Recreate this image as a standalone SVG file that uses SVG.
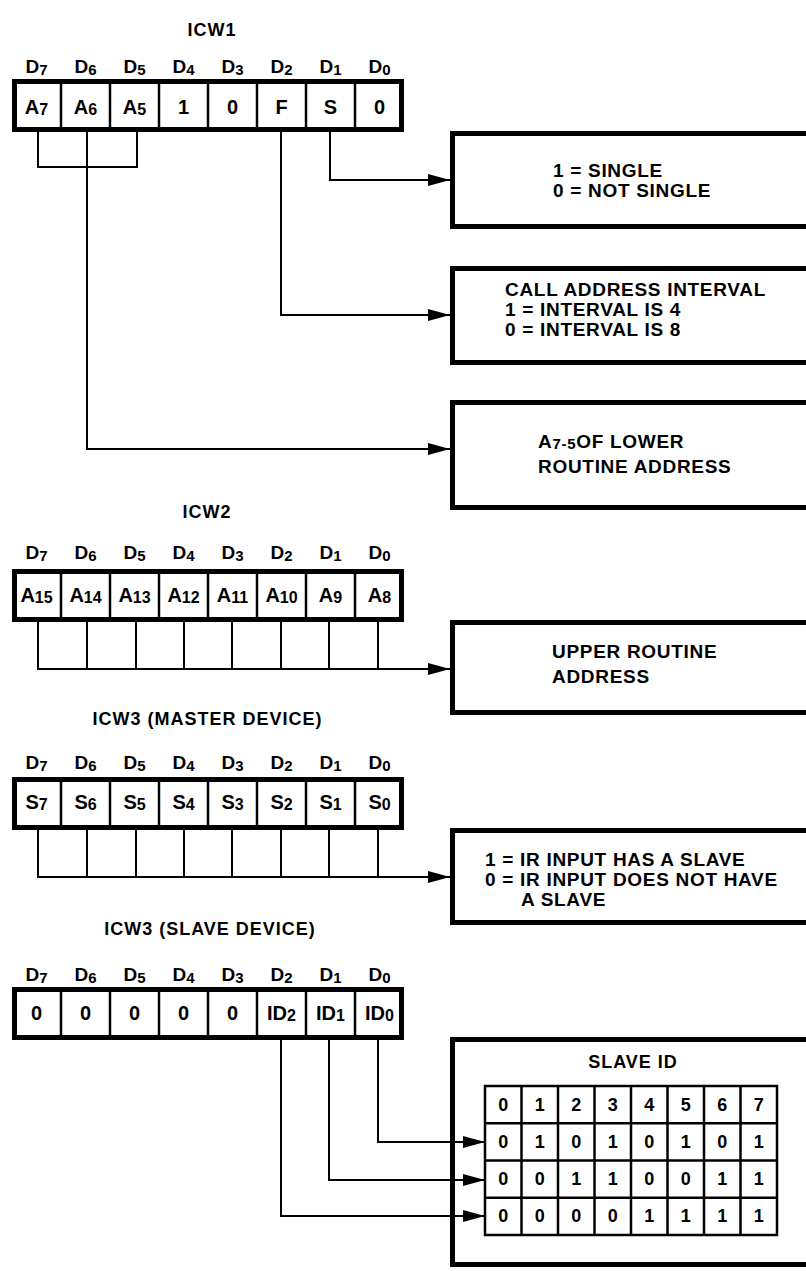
<svg xmlns="http://www.w3.org/2000/svg" width="806" height="1271" viewBox="0 0 806 1271">
<style>
.bg{fill:#fff}
.reg{fill:#fff;stroke:#000;stroke-width:5}
.dv{stroke:#000;stroke-width:2.5}
.wire{fill:none;stroke:#000;stroke-width:2}
.box{fill:#fff;stroke:#000;stroke-width:5}
.grid{fill:none;stroke:#000;stroke-width:2.5}
text{font-family:"Liberation Sans",Arial,sans-serif;font-weight:bold;fill:#000}
.lbl{font-size:19px;text-anchor:middle}
.cell{font-size:20px;text-anchor:middle}
.num{font-size:18px;text-anchor:middle}
.sub{font-size:15px}
.csub{font-size:16px}
.title{font-size:18px;letter-spacing:1px;text-anchor:middle}
.desc{font-size:19px;letter-spacing:0.7px}
</style>
<defs>
<marker id="ah" markerUnits="userSpaceOnUse" markerWidth="22" markerHeight="12" refX="22" refY="6" orient="auto"><path d="M0,0 L22,6 L0,12 z" fill="#000"/></marker>
<g id="dividers">
<line class="dv" x1="61" y1="0" x2="61" y2="49"/><line class="dv" x1="110" y1="0" x2="110" y2="49"/>
<line class="dv" x1="159" y1="0" x2="159" y2="49"/><line class="dv" x1="208" y1="0" x2="208" y2="49"/>
<line class="dv" x1="257" y1="0" x2="257" y2="49"/><line class="dv" x1="306" y1="0" x2="306" y2="49"/>
<line class="dv" x1="355" y1="0" x2="355" y2="49"/>
</g>
</defs>
<rect class="bg" x="0" y="0" width="806" height="1271"/>

<!-- ICW1 -->
<g id="icw1">
<text class="title" x="212" y="36">ICW1</text>
<text class="lbl" x="36.5" y="73">D<tspan class="sub" dy="2">7</tspan></text>
<text class="lbl" x="85.5" y="73">D<tspan class="sub" dy="2">6</tspan></text>
<text class="lbl" x="134.5" y="73">D<tspan class="sub" dy="2">5</tspan></text>
<text class="lbl" x="183.5" y="73">D<tspan class="sub" dy="2">4</tspan></text>
<text class="lbl" x="232.5" y="73">D<tspan class="sub" dy="2">3</tspan></text>
<text class="lbl" x="281.5" y="73">D<tspan class="sub" dy="2">2</tspan></text>
<text class="lbl" x="330.5" y="73">D<tspan class="sub" dy="2">1</tspan></text>
<text class="lbl" x="379.5" y="73">D<tspan class="sub" dy="2">0</tspan></text>
<rect class="reg" x="14.5" y="81.5" width="387" height="48"/>
<use href="#dividers" y="81"/>
<text class="cell" x="36.5" y="114">A<tspan class="csub" dy="1">7</tspan></text>
<text class="cell" x="85.5" y="114">A<tspan class="csub" dy="1">6</tspan></text>
<text class="cell" x="134.5" y="114">A<tspan class="csub" dy="1">5</tspan></text>
<text class="cell" x="183.5" y="114">1</text>
<text class="cell" x="232.5" y="114">0</text>
<text class="cell" x="281.5" y="114">F</text>
<text class="cell" x="330.5" y="114">S</text>
<text class="cell" x="379.5" y="114">0</text>
</g>

<!-- ICW2 -->
<g id="icw2">
<text class="title" x="207" y="518">ICW2</text>
<text class="lbl" x="36.5" y="559">D<tspan class="sub" dy="2">7</tspan></text>
<text class="lbl" x="85.5" y="559">D<tspan class="sub" dy="2">6</tspan></text>
<text class="lbl" x="134.5" y="559">D<tspan class="sub" dy="2">5</tspan></text>
<text class="lbl" x="183.5" y="559">D<tspan class="sub" dy="2">4</tspan></text>
<text class="lbl" x="232.5" y="559">D<tspan class="sub" dy="2">3</tspan></text>
<text class="lbl" x="281.5" y="559">D<tspan class="sub" dy="2">2</tspan></text>
<text class="lbl" x="330.5" y="559">D<tspan class="sub" dy="2">1</tspan></text>
<text class="lbl" x="379.5" y="559">D<tspan class="sub" dy="2">0</tspan></text>
<rect class="reg" x="14.5" y="571.5" width="387" height="48"/>
<use href="#dividers" y="571"/>
<text class="cell" x="36.5" y="602">A<tspan class="csub" dy="1">15</tspan></text>
<text class="cell" x="85.5" y="602">A<tspan class="csub" dy="1">14</tspan></text>
<text class="cell" x="134.5" y="602">A<tspan class="csub" dy="1">13</tspan></text>
<text class="cell" x="183.5" y="602">A<tspan class="csub" dy="1">12</tspan></text>
<text class="cell" x="232.5" y="602">A<tspan class="csub" dy="1">11</tspan></text>
<text class="cell" x="281.5" y="602">A<tspan class="csub" dy="1">10</tspan></text>
<text class="cell" x="330.5" y="602">A<tspan class="csub" dy="1">9</tspan></text>
<text class="cell" x="379.5" y="602">A<tspan class="csub" dy="1">8</tspan></text>
</g>

<!-- ICW3 master -->
<g id="icw3-master">
<text class="title" x="207.5" y="725">ICW3 (MASTER DEVICE)</text>
<text class="lbl" x="36.5" y="769">D<tspan class="sub" dy="2">7</tspan></text>
<text class="lbl" x="85.5" y="769">D<tspan class="sub" dy="2">6</tspan></text>
<text class="lbl" x="134.5" y="769">D<tspan class="sub" dy="2">5</tspan></text>
<text class="lbl" x="183.5" y="769">D<tspan class="sub" dy="2">4</tspan></text>
<text class="lbl" x="232.5" y="769">D<tspan class="sub" dy="2">3</tspan></text>
<text class="lbl" x="281.5" y="769">D<tspan class="sub" dy="2">2</tspan></text>
<text class="lbl" x="330.5" y="769">D<tspan class="sub" dy="2">1</tspan></text>
<text class="lbl" x="379.5" y="769">D<tspan class="sub" dy="2">0</tspan></text>
<rect class="reg" x="14.5" y="779.5" width="387" height="48"/>
<use href="#dividers" y="779"/>
<text class="cell" x="36.5" y="809">S<tspan class="csub" dy="1">7</tspan></text>
<text class="cell" x="85.5" y="809">S<tspan class="csub" dy="1">6</tspan></text>
<text class="cell" x="134.5" y="809">S<tspan class="csub" dy="1">5</tspan></text>
<text class="cell" x="183.5" y="809">S<tspan class="csub" dy="1">4</tspan></text>
<text class="cell" x="232.5" y="809">S<tspan class="csub" dy="1">3</tspan></text>
<text class="cell" x="281.5" y="809">S<tspan class="csub" dy="1">2</tspan></text>
<text class="cell" x="330.5" y="809">S<tspan class="csub" dy="1">1</tspan></text>
<text class="cell" x="379.5" y="809">S<tspan class="csub" dy="1">0</tspan></text>
</g>

<!-- ICW3 slave -->
<g id="icw3-slave">
<text class="title" x="210" y="935">ICW3 (SLAVE DEVICE)</text>
<text class="lbl" x="36.5" y="981">D<tspan class="sub" dy="2">7</tspan></text>
<text class="lbl" x="85.5" y="981">D<tspan class="sub" dy="2">6</tspan></text>
<text class="lbl" x="134.5" y="981">D<tspan class="sub" dy="2">5</tspan></text>
<text class="lbl" x="183.5" y="981">D<tspan class="sub" dy="2">4</tspan></text>
<text class="lbl" x="232.5" y="981">D<tspan class="sub" dy="2">3</tspan></text>
<text class="lbl" x="281.5" y="981">D<tspan class="sub" dy="2">2</tspan></text>
<text class="lbl" x="330.5" y="981">D<tspan class="sub" dy="2">1</tspan></text>
<text class="lbl" x="379.5" y="981">D<tspan class="sub" dy="2">0</tspan></text>
<rect class="reg" x="14.5" y="989.5" width="387" height="48"/>
<use href="#dividers" y="989"/>
<text class="cell" x="36.5" y="1020">0</text>
<text class="cell" x="85.5" y="1020">0</text>
<text class="cell" x="134.5" y="1020">0</text>
<text class="cell" x="183.5" y="1020">0</text>
<text class="cell" x="232.5" y="1020">0</text>
<text class="cell" x="281.5" y="1020">ID<tspan class="csub" dy="1">2</tspan></text>
<text class="cell" x="330.5" y="1020">ID<tspan class="csub" dy="1">1</tspan></text>
<text class="cell" x="379.5" y="1020">ID<tspan class="csub" dy="1">0</tspan></text>
</g>

<!-- description boxes -->
<g id="box-single">
<rect class="box" x="452.5" y="133.5" width="400" height="93"/>
<text class="desc" x="553" y="177">1 = SINGLE</text>
<text class="desc" x="553" y="197">0 = NOT SINGLE</text>
</g>
<g id="box-interval">
<rect class="box" x="452.5" y="268.5" width="400" height="94"/>
<text class="desc" x="505" y="296">CALL ADDRESS INTERVAL</text>
<text class="desc" x="505" y="316">1 = INTERVAL IS 4</text>
<text class="desc" x="505" y="336">0 = INTERVAL IS 8</text>
</g>
<g id="box-lower">
<rect class="box" x="452.5" y="402.5" width="400" height="105"/>
<text class="desc" x="538" y="448">A<tspan class="sub" dy="1">7-5</tspan><tspan dy="-1">OF LOWER</tspan></text>
<text class="desc" x="538" y="473">ROUTINE ADDRESS</text>
</g>
<g id="box-upper">
<rect class="box" x="452.5" y="622.5" width="400" height="90"/>
<text class="desc" x="552" y="658">UPPER ROUTINE</text>
<text class="desc" x="552" y="683">ADDRESS</text>
</g>
<g id="box-master">
<rect class="box" x="452.5" y="830.5" width="400" height="92"/>
<text class="desc" x="485" y="866">1 = IR INPUT HAS A SLAVE</text>
<text class="desc" x="485" y="886">0 = IR INPUT DOES NOT HAVE</text>
<text class="desc" x="521" y="906">A SLAVE</text>
</g>
<g id="box-slave-id">
<rect class="box" x="452.5" y="1039.5" width="400" height="225"/>
<text class="title" x="633" y="1068">SLAVE ID</text>
<rect class="grid" x="485" y="1086" width="292" height="149"/>
<path class="grid" d="M521.5,1086V1235M558,1086V1235M594.5,1086V1235M631,1086V1235M667.5,1086V1235M704,1086V1235M740.5,1086V1235M485,1123.25H777M485,1160.5H777M485,1197.75H777"/>
<g class="num-rows">
<text class="num" x="503.25" y="1111">0</text><text class="num" x="539.75" y="1111">1</text><text class="num" x="576.25" y="1111">2</text><text class="num" x="612.75" y="1111">3</text><text class="num" x="649.25" y="1111">4</text><text class="num" x="685.75" y="1111">5</text><text class="num" x="722.25" y="1111">6</text><text class="num" x="758.75" y="1111">7</text>
<text class="num" x="503.25" y="1148">0</text><text class="num" x="539.75" y="1148">1</text><text class="num" x="576.25" y="1148">0</text><text class="num" x="612.75" y="1148">1</text><text class="num" x="649.25" y="1148">0</text><text class="num" x="685.75" y="1148">1</text><text class="num" x="722.25" y="1148">0</text><text class="num" x="758.75" y="1148">1</text>
<text class="num" x="503.25" y="1185">0</text><text class="num" x="539.75" y="1185">0</text><text class="num" x="576.25" y="1185">1</text><text class="num" x="612.75" y="1185">1</text><text class="num" x="649.25" y="1185">0</text><text class="num" x="685.75" y="1185">0</text><text class="num" x="722.25" y="1185">1</text><text class="num" x="758.75" y="1185">1</text>
<text class="num" x="503.25" y="1222">0</text><text class="num" x="539.75" y="1222">0</text><text class="num" x="576.25" y="1222">0</text><text class="num" x="612.75" y="1222">0</text><text class="num" x="649.25" y="1222">1</text><text class="num" x="685.75" y="1222">1</text><text class="num" x="722.25" y="1222">1</text><text class="num" x="758.75" y="1222">1</text>
</g>
</g>

<!-- connectors -->
<g id="connectors">
<path class="wire" d="M38,132V167H137V132"/>
<path class="wire" d="M330,132V180H450" marker-end="url(#ah)"/>
<path class="wire" d="M281,132V315H450" marker-end="url(#ah)"/>
<path class="wire" d="M87,132V449H450" marker-end="url(#ah)"/>
<path class="wire" d="M87,622V669M136,622V669M184,622V669M232,622V669M281,622V669M329,622V669M378,622V669"/>
<path class="wire" d="M38,622V669H450" marker-end="url(#ah)"/>
<path class="wire" d="M87,830V877M136,830V877M184,830V877M232,830V877M281,830V877M329,830V877M378,830V877"/>
<path class="wire" d="M38,830V877H450" marker-end="url(#ah)"/>
<path class="wire" d="M378,1040V1142H485" marker-end="url(#ah)"/>
<path class="wire" d="M329,1040V1180H485" marker-end="url(#ah)"/>
<path class="wire" d="M281,1040V1216H485" marker-end="url(#ah)"/>
</g>
</svg>
